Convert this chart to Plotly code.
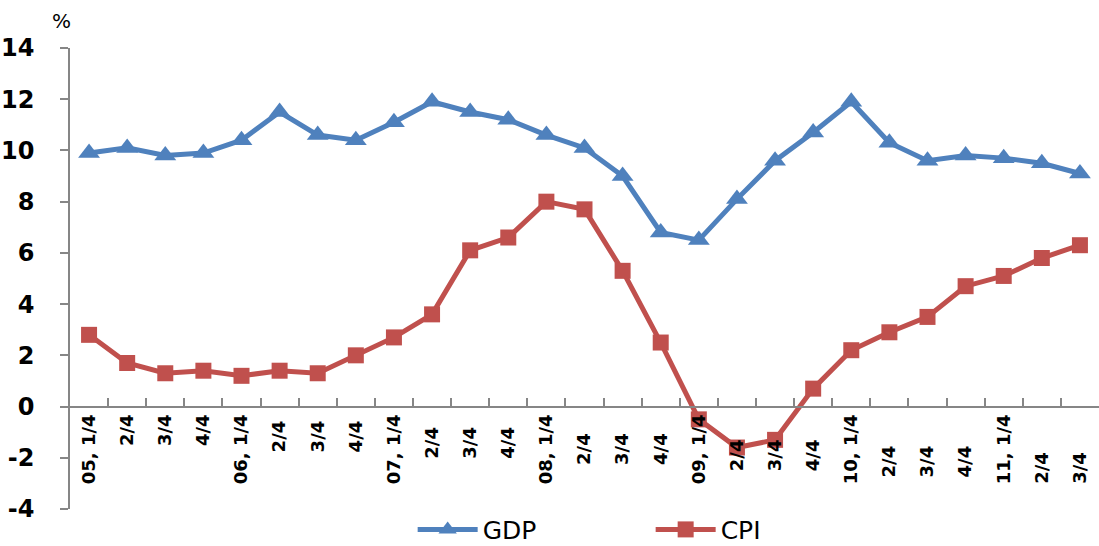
import plotly.graph_objects as go

categories = ["05, 1/4", "2/4", "3/4", "4/4",
              "06, 1/4", "2/4 ", "3/4 ", "4/4 ",
              "07, 1/4", "2/4  ", "3/4  ", "4/4  ",
              "08, 1/4", "2/4   ", "3/4   ", "4/4   ",
              "09, 1/4", "2/4    ", "3/4    ", "4/4    ",
              "10, 1/4", "2/4     ", "3/4     ", "4/4     ",
              "11, 1/4", "2/4      ", "3/4      "]

gdp = [9.9, 10.1, 9.8, 9.9, 10.4, 11.5, 10.6, 10.4, 11.1, 11.9, 11.5, 11.2,
       10.6, 10.1, 9.0, 6.8, 6.5, 8.1, 9.6, 10.7, 11.9, 10.3, 9.6, 9.8,
       9.7, 9.5, 9.1]
cpi = [2.8, 1.7, 1.3, 1.4, 1.2, 1.4, 1.3, 2.0, 2.7, 3.6, 6.1, 6.6,
       8.0, 7.7, 5.3, 2.5, -0.5, -1.6, -1.3, 0.7, 2.2, 2.9, 3.5, 4.7,
       5.1, 5.8, 6.3]

y_ticks = [-4, -2, 0, 2, 4, 6, 8, 10, 12, 14]
y_tick_text = ["-4", "-2", "0", "2", "4", "6", "8", "10", "12", "14"]

BLUE = "#4F81BD"
RED = "#C0504D"
AXIS = "#868686"

fig = go.Figure()
fig.add_trace(go.Scatter(
    x=categories, y=gdp, name="GDP", mode="lines+markers",
    line=dict(color=BLUE, width=5),
    marker=dict(symbol="triangle-up", size=19, color=BLUE),
))
fig.add_trace(go.Scatter(
    x=categories, y=cpi, name="CPI", mode="lines+markers",
    line=dict(color=RED, width=5),
    marker=dict(symbol="square", size=16, color=RED),
))

fig.update_layout(
    width=1099, height=546,
    margin=dict(l=70, r=0, t=48, b=37, autoexpand=False),
    paper_bgcolor="white", plot_bgcolor="white",
    showlegend=True,
    legend=dict(orientation="h", x=0.333, xanchor="left",
                y=-0.0448, yanchor="middle",
                font=dict(family="DejaVu Sans", size=25, color="black"),
                entrywidth=163, entrywidthmode="pixels", itemwidth=60,
                bgcolor="rgba(0,0,0,0)"),
    xaxis=dict(
        type="category", range=[-0.5, 26.5], automargin=False,
        anchor="free", position=4 / 18,
        showline=True, linecolor=AXIS, linewidth=1.5,
        ticks="inside", ticklen=8, tickcolor=AXIS, tickwidth=1.5,
        tickson="boundaries", tickangle=-90,
        tickfont=dict(family="DejaVu Sans", size=18, color="black", weight="bold"),
        showgrid=False, zeroline=False,
    ),
    yaxis=dict(
        range=[-4, 14], tickvals=y_ticks, ticktext=y_tick_text, automargin=False,
        showline=True, linecolor=AXIS, linewidth=1.5,
        ticks="outside", ticklen=8, tickcolor=AXIS, tickwidth=1.5,
        ticklabelstandoff=21,
        tickfont=dict(family="DejaVu Sans", size=24, color="black", weight="bold"),
        showgrid=False, zeroline=False,
    ),
    annotations=[dict(text="%", xref="paper", yref="paper", x=0, y=1,
                      xanchor="right", yanchor="bottom", yshift=13, xshift=3,
                      showarrow=False,
                      font=dict(family="DejaVu Sans", size=20, color="black"))],
)

fig.write_html("out.html",
               config={"displayModeBar": False},
               post_script="document.body.style.margin='0px';"
                           "document.body.style.overflow='hidden';")
